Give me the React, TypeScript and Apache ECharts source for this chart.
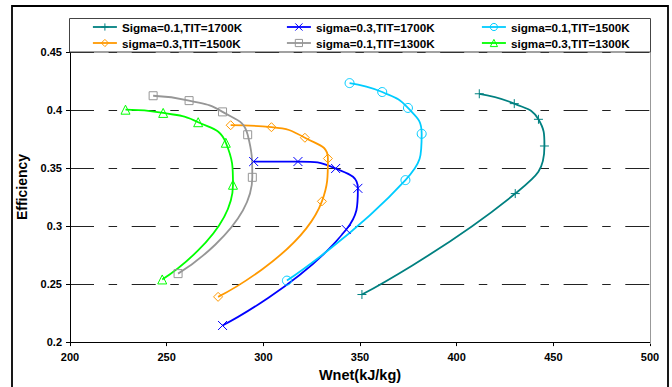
import React, { useEffect, useRef } from "react";
import * as echarts from "echarts";

const seriesNames = [
  "Sigma=0.1,TIT=1700K",
  "sigma=0.3,TIT=1700K",
  "sigma=0.1,TIT=1500K",
  "sigma=0.3,TIT=1500K",
  "sigma=0.1,TIT=1300K",
  "sigma=0.3,TIT=1300K",
];

// [Wnet (kJ/kg), Efficiency]
const s01_1700 = [
  [351.0, 0.241], [430.3, 0.328], [445.4, 0.369], [442.3, 0.392], [429.8, 0.4055], [411.7, 0.414],
];
const s03_1700 = [
  [278.9, 0.2143], [342.9, 0.297], [348.9, 0.3325], [337.4, 0.3496], [317.9, 0.3556], [295.0, 0.3556],
];
const s01_1500 = [
  [312.2, 0.253], [373.5, 0.3396], [381.9, 0.3795], [374.8, 0.4018], [361.5, 0.4155], [344.6, 0.4232],
];
const s03_1500 = [
  [276.6, 0.239], [330.3, 0.3213], [333.4, 0.3582], [321.5, 0.3761], [304.2, 0.3852], [283.1, 0.3869],
];
const s01_1300 = [
  [255.9, 0.259], [294.3, 0.342], [291.9, 0.3787], [278.9, 0.3984], [261.6, 0.4081], [243.0, 0.4123],
];
const s03_1300 = [
  [247.7, 0.254], [284.3, 0.3356], [280.6, 0.3718], [266.3, 0.3895], [248.2, 0.3975], [228.7, 0.4003],
];

const seriesData = [s01_1700, s03_1700, s01_1500, s03_1500, s01_1300, s03_1300];
const seriesColors = ["#008080", "#0000FF", "#00CCFF", "#FF9900", "#969696", "#00FF00"];
const seriesSymbols = [
  "path://M5 0L5 10M0 5L10 5",
  "path://M0 0L10 10M10 0L0 10",
  "circle",
  "diamond",
  "rect",
  "triangle",
];
const seriesSymbolSizes = [9, 9, 9, 9, 8, 9];

const xMin = 200, xMax = 500, xStep = 50;
const yMin = 0.2, yMax = 0.45, yStep = 0.05;

const FONT = "'Liberation Sans', Arial, sans-serif";

export default function App() {
  const ref = useRef<HTMLDivElement>(null);
  useEffect(() => {
    document.body.style.margin = "0";
    const chart = echarts.init(ref.current!, null, { renderer: "svg" });
    const legendPos = [
      [92, 21], [286, 21], [481, 21],
      [92, 37], [286, 37], [481, 37],
    ];
    const option: any = {
      animation: false,
      backgroundColor: "#ffffff",
      grid: { left: 70, right: 22, top: 52, bottom: 43, containLabel: false },
      xAxis: {
        type: "value",
        min: xMin,
        max: xMax,
        interval: xStep,
        name: "Wnet(kJ/kg)",
        nameLocation: "middle",
        nameGap: 24,
        nameTextStyle: { fontFamily: FONT, fontWeight: "bold", fontSize: 14.5, color: "#000" },
        axisLine: { show: true, lineStyle: { color: "#000", width: 1 } },
        axisTick: { show: true, length: 4, lineStyle: { color: "#000" } },
        axisLabel: { fontFamily: FONT, fontWeight: "bold", fontSize: 11, color: "#000", margin: 9 },
        splitLine: { show: false },
      },
      yAxis: {
        type: "value",
        min: yMin,
        max: yMax,
        interval: yStep,
        axisLine: { show: true, lineStyle: { color: "#000", width: 1 } },
        axisTick: { show: true, length: 4, lineStyle: { color: "#000" } },
        axisLabel: { fontFamily: FONT, fontWeight: "bold", fontSize: 11, color: "#000", margin: 8 },
        splitLine: { show: true, lineStyle: { color: "#222", width: 1, type: [24, 14.6, 8.5, 14.6] } },
      },
      legend: seriesNames.map((n, i) => ({
        data: [n],
        left: legendPos[i][0],
        top: legendPos[i][1],
        padding: 0,
        itemWidth: 24,
        itemHeight: 9,
        itemGap: 0,
        selectedMode: false,
        itemStyle: { color: "rgba(0,0,0,0)", borderColor: seriesColors[i], borderWidth: 1 },
        lineStyle: { color: seriesColors[i], width: 1.8 },
        textStyle: { fontFamily: FONT, fontWeight: "bold", fontSize: 11.7, color: "#000" },
      })),
      graphic: [
        {
          type: "rect",
          z: 0,
          shape: { x: 12, y: 6, width: 656, height: 400 },
          style: { fill: "none", stroke: "#000", lineWidth: 1.8 },
        },
        {
          type: "line",
          z: 3,
          shape: { x1: 650.5, y1: 52, x2: 650.5, y2: 344 },
          style: { stroke: "#999", lineWidth: 1 },
        },
        {
          type: "rect",
          z: 3,
          shape: { x: 69.5, y: 18.5, width: 581, height: 33.5 },
          style: { fill: "#fff", stroke: "#444", lineWidth: 1 },
        },
        {
          type: "text",
          z: 5,
          x: 22,
          y: 187,
          rotation: Math.PI / 2,
          style: {
            text: "Efficiency",
            font: `bold 14px ${FONT}`,
            fill: "#000",
            align: "center",
            verticalAlign: "middle",
          },
        },
      ],
      series: seriesNames.map((n, i) => ({
        name: n,
        type: "line",
        data: seriesData[i],
        smooth: 0.5,
        symbol: seriesSymbols[i],
        symbolSize: seriesSymbolSizes[i],
        showAllSymbol: true,
        lineStyle: { color: seriesColors[i], width: 1.8 },
        itemStyle: { color: "rgba(0,0,0,0)", borderColor: seriesColors[i], borderWidth: 1 },
        emphasis: { disabled: true },
      })),
    };
    chart.setOption(option);
    return () => chart.dispose();
  }, []);
  return <div ref={ref} style={{ width: 672, height: 387 }} />;
}
